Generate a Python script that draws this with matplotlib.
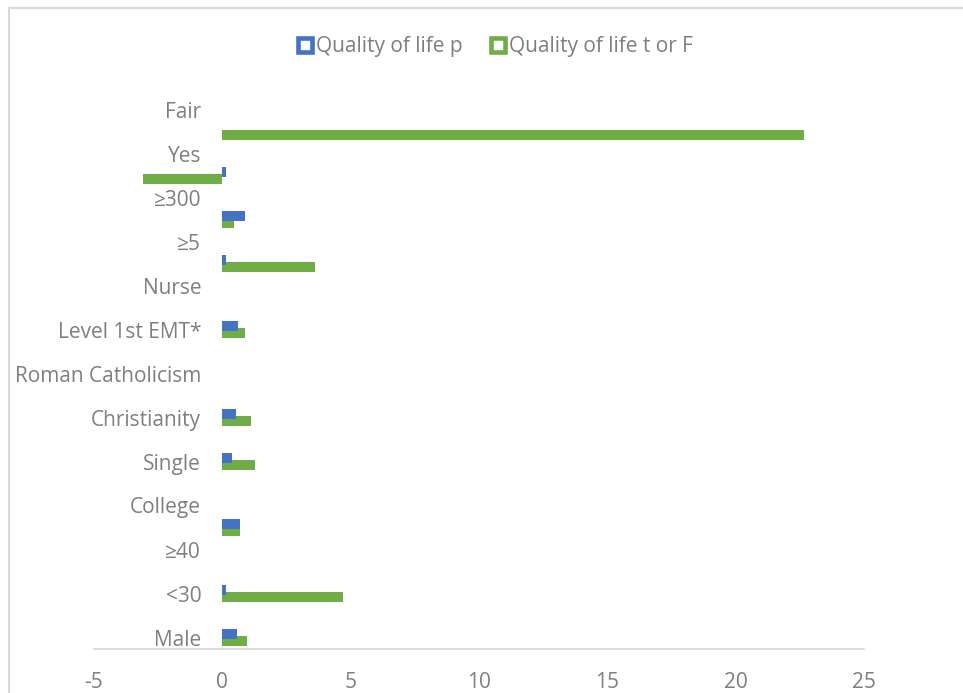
import matplotlib
matplotlib.use('Agg')
import matplotlib.pyplot as plt
from matplotlib.lines import Line2D
import numpy as np

plt.rcParams['font.family'] = ['Open Sans', 'DejaVu Sans']

# Data (bottom to top); odd rows have hidden labels in the original
categories = ['Male', '', '<30', '', '≥40', '', 'College', '', 'Single', '',
              'Christianity', '', 'Roman Catholicism', '', 'Level 1st EMT*', '',
              'Nurse', '', '≥5', '', '≥300', '', 'Yes', '', 'Fair']
p_vals = [0.57, 0, 0.16, 0, 0, 0.70, 0, 0, 0.40, 0, 0.53, 0, 0, 0, 0.64, 0,
          0, 0.16, 0, 0.90, 0, 0.16, 0, 0, 0]
t_vals = [0.96, 0, 4.70, 0, 0, 0.70, 0, 0, 1.29, 0, 1.12, 0, 0, 0, 0.90, 0,
          0, 3.64, 0, 0.46, 0, -3.09, 0, 22.65, 0]
x_ticks = [-5, 0, 5, 10, 15, 20, 25]

blue = '#4472C4'
green = '#70AD47'
grey_txt = '#7F7F7F'
grey_line = '#D9D9D9'

fig = plt.figure(figsize=(9.63, 6.93), dpi=100)
ax = fig.add_axes([93.5 / 963, 1 - 648.5 / 693, (864.3 - 93.5) / 963, 550 / 693])

y = np.arange(len(categories))
ax.barh(y - 0.16, t_vals, height=0.45, color=green, zorder=2, label='Quality of life t or F')
ax.barh(y + 0.16, p_vals, height=0.45, color=blue, zorder=3, label='Quality of life p')

ax.set_xlim(-5, 25)
ax.set_ylim(-0.5, len(categories) - 0.5)
ax.set_xticks(x_ticks)
ax.set_xticklabels([str(v) for v in x_ticks])
ax.set_yticks(y)
ax.set_yticklabels(categories)

# category labels sit next to the zero line
ax.spines['left'].set_position(('data', 0))
ax.spines['left'].set_visible(False)
for s in ['top', 'right']:
    ax.spines[s].set_visible(False)
ax.spines['bottom'].set_color(grey_line)
ax.spines['bottom'].set_linewidth(1.3)

ax.tick_params(axis='x', length=0, pad=17, labelsize=15, labelcolor=grey_txt)
ax.tick_params(axis='y', length=0, pad=15, labelsize=15, labelcolor=grey_txt)

# Legend
handles = [Line2D([], [], marker='s', linestyle='none', markersize=9.5,
                  markerfacecolor='white', markeredgecolor=c, markeredgewidth=3.3)
           for c in (blue, green)]
fig.legend(handles, ['Quality of life p', 'Quality of life t or F'],
           loc='center', bbox_to_anchor=(0.5135, 0.933), ncol=2, frameon=False,
           fontsize=15, labelcolor=grey_txt, handlelength=0.85, handletextpad=0.1,
           columnspacing=1.3, borderpad=0)

# Chart frame (left and top edges visible)
fig.add_artist(Line2D([9 / 963, 9 / 963], [0, 1 - 8 / 693], color=grey_line, lw=1.5,
                      transform=fig.transFigure))
fig.add_artist(Line2D([9 / 963, 1], [1 - 8 / 693, 1 - 8 / 693], color=grey_line, lw=1.5,
                      transform=fig.transFigure))

fig.savefig('out.png', dpi=100)
